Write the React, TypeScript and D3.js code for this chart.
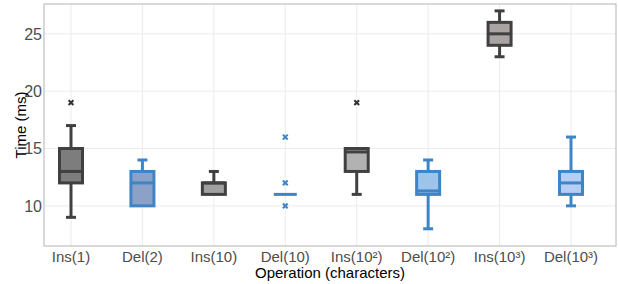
import * as d3 from "d3";

const categories = ["Ins(1)", "Del(2)", "Ins(10)", "Del(10)", "Ins(10²)", "Del(10²)", "Ins(10³)", "Del(10³)"];
const groups = ["ins", "del", "ins", "del", "ins", "del", "ins", "del"];
const lowWhisker = [9, 10, 11, 11, 11, 8, 23, 10];
const q1 = [12, 10, 11, 11, 13, 11, 24, 11];
const median = [13, 12, 12, 11, 14.7, 11.3, 25, 12];
const q3 = [15, 13, 12, 11, 15, 13, 26, 13];
const highWhisker = [17, 14, 13, 11, 15, 14, 27, 16];
const outliers = [[19], [], [], [10, 12, 16], [19], [], [], []];
const fills = ["#7d7d7d", "#8ba1c7", "#a0a0a0", "none", "#b2b2b2", "#9ec4e9", "#a9a3a3", "#b5cef4"];
const yTicks = [10, 15, 20, 25];

const W = 618;
const H = 284;
const left = 44;
const right = 616;
const top = 4;
const bottom = 246;

export default function App() {
  const y = d3.scaleLinear().domain([6.5, 27.6]).range([bottom, top]);
  const x = d3.scalePoint<string>().domain(categories).range([71, 571]);
  const stroke = (i: number) => (groups[i] === "ins" ? "#404040" : "#3d85c6");
  const boxW = 23;
  const capW = 10;

  return (
    <svg width={W} height={H} style={{ position: "absolute", left: 0, top: 0, fontFamily: "'Liberation Sans', Arial, sans-serif" }}>
      <rect x={0} y={0} width={W} height={H} fill="#fff" />
      {yTicks.map((t) => (
        <line key={"gy" + t} x1={left} x2={right} y1={y(t)} y2={y(t)} stroke="#ebebeb" strokeWidth={1} />
      ))}
      {categories.map((c) => (
        <line key={"gx" + c} x1={x(c)} x2={x(c)} y1={top} y2={bottom} stroke="#ebebeb" strokeWidth={1} />
      ))}
      {categories.map((c, i) => {
        const cx = x(c)!;
        const col = stroke(i);
        return (
          <g key={c}>
            {highWhisker[i] > q3[i] && (
              <g>
                <line x1={cx} x2={cx} y1={y(q3[i])} y2={y(highWhisker[i])} stroke={col} strokeWidth={3} />
                <line x1={cx - capW / 2} x2={cx + capW / 2} y1={y(highWhisker[i])} y2={y(highWhisker[i])} stroke={col} strokeWidth={3} />
              </g>
            )}
            {lowWhisker[i] < q1[i] && (
              <g>
                <line x1={cx} x2={cx} y1={y(q1[i])} y2={y(lowWhisker[i])} stroke={col} strokeWidth={3} />
                <line x1={cx - capW / 2} x2={cx + capW / 2} y1={y(lowWhisker[i])} y2={y(lowWhisker[i])} stroke={col} strokeWidth={3} />
              </g>
            )}
            {q3[i] > q1[i] && (
              <rect x={cx - boxW / 2} y={y(q3[i])} width={boxW} height={y(q1[i]) - y(q3[i])} fill={fills[i]} stroke={col} strokeWidth={3} />
            )}
            <line x1={cx - boxW / 2} x2={cx + boxW / 2} y1={y(median[i])} y2={y(median[i])} stroke={col} strokeWidth={3} />
            {outliers[i].map((o, j) => (
              <path
                key={j}
                d={`M${cx - 2.4},${y(o) - 2.4}L${cx + 2.4},${y(o) + 2.4}M${cx - 2.4},${y(o) + 2.4}L${cx + 2.4},${y(o) - 2.4}`}
                stroke={groups[i] === "ins" ? "#333" : "#3d85c6"}
                strokeWidth={2}
              />
            ))}
          </g>
        );
      })}
      <rect x={left} y={top} width={right - left} height={bottom - top} fill="none" stroke="#b3b3b3" strokeWidth={1} />
      {yTicks.map((t) => (
        <text key={"ty" + t} x={left - 2} y={y(t)} dy="0.36em" textAnchor="end" fontSize={16} fill="#4d4d4d">
          {t}
        </text>
      ))}
      {categories.map((c) => (
        <text key={"tx" + c} x={x(c)} y={262} textAnchor="middle" fontSize={15} fill="#4d4d4d">
          {c}
        </text>
      ))}
      <text x={(left + right) / 2} y={278} textAnchor="middle" fontSize={15} fill="#000">
        Operation (characters)
      </text>
      <text transform={`translate(26,${(top + bottom) / 2}) rotate(-90)`} textAnchor="middle" fontSize={15} fill="#000">
        Time (ms)
      </text>
    </svg>
  );
}
